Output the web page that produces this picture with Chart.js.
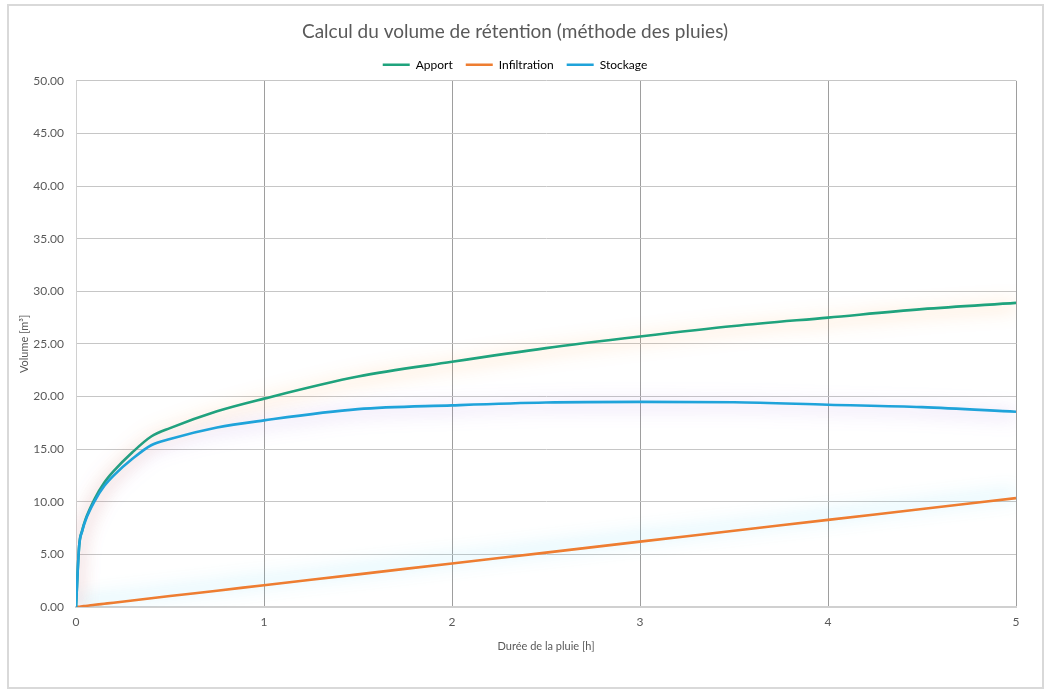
<!DOCTYPE html>
<html>
<head>
<meta charset="utf-8">
<script src="https://cdn.jsdelivr.net/npm/chart.js@4.4.1/dist/chart.umd.min.js"></script>
<style>
  html, body { margin: 0; padding: 0; background: #fff; }
  #wrap { width: 1051px; height: 691px; position: relative; }
</style>
</head>
<body>
<div id="wrap"><canvas id="retentionChart"></canvas></div>
<script>
// Durée de la pluie [h]
var durations = [0, 0.0167, 0.0333, 0.05, 0.1, 0.15, 0.2, 0.3, 0.4, 0.5, 0.75, 1, 1.5, 2, 2.5, 3, 3.5, 4, 4.5, 5];
// Volumes [m³]
var apport = [0, 5.8, 7.3, 8.3, 10.3, 11.8, 12.9, 14.7, 16.2, 17.0, 18.6, 19.8, 21.9, 23.3, 24.6, 25.7, 26.7, 27.5, 28.3, 28.9];
var infiltration = [0, 0.03, 0.07, 0.10, 0.21, 0.31, 0.41, 0.62, 0.83, 1.04, 1.55, 2.07, 3.10, 4.14, 5.17, 6.21, 7.24, 8.28, 9.31, 10.35];
var stockage = [0, 5.77, 7.23, 8.20, 10.09, 11.49, 12.49, 14.08, 15.37, 15.96, 17.05, 17.73, 18.80, 19.16, 19.43, 19.49, 19.46, 19.22, 18.99, 18.55];
var seriesNames = ['Apport', 'Infiltration', 'Stockage'];

function toPoints(values) {
    return values.map(function (v, i) { return { x: durations[i], y: v }; });
}

// soft coloured glow behind each line
var glows = [
    { color: 'rgba(255, 160, 70, 0.7)', blur: 18, dy: 3 },
    { color: 'rgba(70, 205, 240, 0.7)', blur: 18, dy: -4 },
    { color: 'rgba(150, 100, 220, 0.6)', blur: 18, dy: 3 }
];

var glowPlugin = {
    id: 'glow',
    beforeDatasetDraw: function (chart, args) {
        var g = glows[args.index];
        var ctx = chart.ctx;
        ctx.save();
        ctx.shadowColor = g.color;
        ctx.shadowBlur = g.blur;
        ctx.shadowOffsetY = g.dy;
    },
    afterDatasetDraw: function (chart) {
        chart.ctx.restore();
    }
};

var framePlugin = {
    id: 'frame',
    afterDraw: function (chart) {
        var ctx = chart.ctx;
        ctx.save();
        ctx.strokeStyle = '#d9d9d9';
        ctx.lineWidth = 2;
        ctx.strokeRect(8, 5, 1035, 683);
        ctx.restore();
    }
};

var ctx = document.getElementById('retentionChart').getContext('2d');
var chart = new Chart(ctx, {
    type: 'line',
    data: {
        datasets: [{
            label: seriesNames[0],
            data: toPoints(apport),
            borderColor: '#1fa37d',
            order: 1
        }, {
            label: seriesNames[1],
            data: toPoints(infiltration),
            borderColor: '#ee7d31',
            order: 2
        }, {
            label: seriesNames[2],
            data: toPoints(stockage),
            borderColor: '#1fa3da',
            order: 0
        }]
    },
    plugins: [glowPlugin, framePlugin],
    options: {
        responsive: true,
        maintainAspectRatio: false,
        animation: false,
        layout: { padding: { left: 14, right: 35, top: 0, bottom: 34 } },
        elements: {
            point: { radius: 0 },
            line: { borderWidth: 2.6, cubicInterpolationMode: 'monotone', fill: false }
        },
        plugins: {
            title: {
                display: true,
                text: 'Calcul du volume de rétention (méthode des pluies)',
                color: '#595959',
                font: { family: 'Lato', size: 19, weight: 'normal' },
                padding: { top: 20, bottom: 3 }
            },
            legend: {
                display: true,
                labels: {
                    color: '#595959',
                    font: { family: 'Lato', size: 12 },
                    boxWidth: 27,
                    boxHeight: 0,
                    padding: 13,
                    generateLabels: function (chart) {
                        return chart.data.datasets.map(function (ds, i) {
                            return {
                                text: ds.label,
                                strokeStyle: ds.borderColor,
                                fillStyle: ds.borderColor,
                                lineWidth: 2.5,
                                datasetIndex: i
                            };
                        });
                    }
                }
            },
            tooltip: { enabled: false }
        },
        scales: {
            x: {
                type: 'linear',
                min: 0,
                max: 5,
                ticks: {
                    stepSize: 1,
                    color: '#595959',
                    font: { family: 'Lato', size: 12 },
                    padding: 8
                },
                grid: { color: '#9e9e9e', lineWidth: 1, drawTicks: false },
                border: { color: '#d0d0d0', width: 2 },
                title: {
                    display: true,
                    text: 'Durée de la pluie [h]',
                    color: '#595959',
                    font: { family: 'Lato', size: 11 },
                    padding: { top: 8 }
                },
                afterFit: function (scale) { scale.height = 50; }
            },
            y: {
                min: 0,
                max: 50,
                ticks: {
                    stepSize: 5,
                    color: '#595959',
                    font: { family: 'Lato', size: 12 },
                    padding: 12,
                    callback: function (value) { return value.toFixed(2); }
                },
                grid: { color: '#c6c6c6', lineWidth: 1, drawTicks: false },
                border: { color: '#d0d0d0', width: 1 },
                title: {
                    display: true,
                    text: 'Volume [m³]',
                    color: '#595959',
                    font: { family: 'Lato', size: 11 },
                    padding: { bottom: 4 }
                },
                afterFit: function (scale) { scale.width = 62; }
            }
        }
    }
});
</script>
</body>
</html>
